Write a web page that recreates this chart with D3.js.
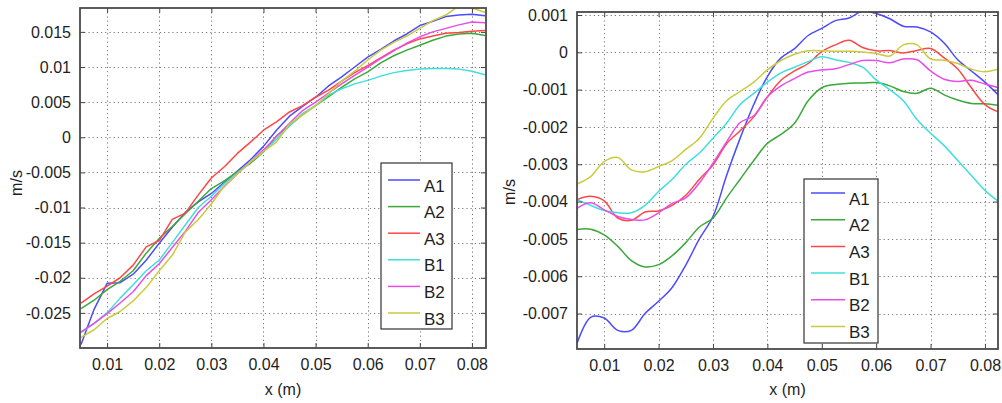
<!DOCTYPE html>
<html><head><meta charset="utf-8">
<script src="https://cdn.jsdelivr.net/npm/d3@7"></script>
<style>
body{margin:0;background:#fff}
svg{display:block}
text{font-family:"Liberation Sans",Arial,Helvetica,sans-serif;fill:#1e1e1e}
</style>
</head><body>
<svg id="c" width="1002" height="403"></svg>
<script>
// ---------- data ----------
const xValues = [0.005,0.0075,0.01,0.0125,0.015,0.0175,0.02,0.0225,0.025,0.0275,0.03,0.0325,0.035,0.0375,0.04,0.0425,0.045,0.0475,0.05,0.0525,0.055,0.0575,0.06,0.0625,0.065,0.0675,0.07,0.0725,0.075,0.0775,0.08,0.0825];
const seriesNames = ["A1","A2","A3","B1","B2","B3"];
const seriesColors = ["#4b4bff","#3aa93a","#ff4646","#40dede","#e94ce9","#caca3c"];

// left panel
const leftA1 = [-0.0295,-0.0245,-0.0208,-0.0207,-0.0195,-0.0175,-0.0151,-0.0128,-0.0107,-0.0092,-0.0080,-0.0064,-0.0048,-0.0032,-0.0013,0.0010,0.0030,0.0044,0.0057,0.0073,0.0086,0.0100,0.0114,0.0125,0.0137,0.0147,0.0159,0.0165,0.0172,0.0174,0.0175,0.0173];
const leftA2 = [-0.0244,-0.0232,-0.0217,-0.0205,-0.0190,-0.0165,-0.0144,-0.0127,-0.0109,-0.0091,-0.0073,-0.0062,-0.0049,-0.0037,-0.0021,0.0002,0.0017,0.0032,0.0045,0.0058,0.0071,0.0083,0.0093,0.0106,0.0116,0.0124,0.0131,0.0138,0.0144,0.0147,0.0148,0.0145];
const leftA3 = [-0.0236,-0.0223,-0.0212,-0.0200,-0.0182,-0.0156,-0.0147,-0.0117,-0.0108,-0.0082,-0.0058,-0.0042,-0.0023,-0.0007,0.0010,0.0022,0.0036,0.0045,0.0057,0.0067,0.0080,0.0092,0.0102,0.0113,0.0124,0.0133,0.0140,0.0144,0.0148,0.0149,0.0151,0.0152];
const leftB1 = [-0.0278,-0.0265,-0.0250,-0.0229,-0.0210,-0.0190,-0.0175,-0.0150,-0.0125,-0.0100,-0.0084,-0.0066,-0.0051,-0.0035,-0.0020,-0.0003,0.0016,0.0034,0.0045,0.0060,0.0069,0.0076,0.0081,0.0087,0.0092,0.0095,0.0097,0.0098,0.0098,0.0097,0.0094,0.0089];
const leftB2 = [-0.0277,-0.0265,-0.0251,-0.0236,-0.0220,-0.0197,-0.0180,-0.0157,-0.0134,-0.0107,-0.0089,-0.0070,-0.0052,-0.0035,-0.0018,0.0001,0.0020,0.0038,0.0050,0.0063,0.0076,0.0088,0.0100,0.0112,0.0123,0.0134,0.0143,0.0150,0.0155,0.0160,0.0164,0.0163];
const leftB3 = [-0.0285,-0.0274,-0.0258,-0.0248,-0.0233,-0.0214,-0.0190,-0.0168,-0.0135,-0.0117,-0.0095,-0.0069,-0.0052,-0.0035,-0.0020,-0.0007,0.0019,0.0032,0.0045,0.0062,0.0080,0.0094,0.0110,0.0124,0.0135,0.0144,0.0155,0.0166,0.0174,0.0187,0.0184,0.0178];

// right panel
const rightA1 = [-0.0078,-0.0071,-0.00712,-0.00745,-0.00745,-0.0070,-0.00667,-0.0063,-0.0057,-0.0050,-0.0044,-0.0033,-0.0023,-0.0014,-0.00065,-0.00015,0.0001,0.00045,0.00064,0.00085,0.00092,0.0011,0.00104,0.0009,0.0007,0.00068,0.00055,0.00025,-0.0002,-0.0005,-0.0008,-0.00115];
const rightA2 = [-0.00475,-0.00474,-0.00489,-0.0052,-0.00558,-0.00575,-0.00569,-0.00545,-0.0051,-0.00468,-0.00444,-0.0039,-0.0034,-0.0029,-0.00244,-0.0022,-0.0019,-0.0013,-0.00095,-0.00086,-0.00083,-0.00082,-0.00081,-0.0009,-0.00105,-0.0011,-0.00096,-0.00114,-0.00128,-0.00137,-0.00138,-0.00142];
const rightA3 = [-0.00395,-0.00386,-0.00398,-0.00444,-0.0045,-0.00428,-0.00425,-0.0041,-0.00383,-0.0034,-0.00302,-0.00245,-0.0021,-0.00173,-0.0012,-0.00075,-0.0005,-0.0003,0.00002,0.0002,0.00032,0.00013,0.00004,0.00005,-0.00002,0.00005,0.0001,-0.00015,-0.00045,-0.00095,-0.0014,-0.0016];
const rightB1 = [-0.00395,-0.0041,-0.00424,-0.0043,-0.0043,-0.0041,-0.00373,-0.0034,-0.0030,-0.0027,-0.0023,-0.0019,-0.0014,-0.0011,-0.0008,-0.00055,-0.0004,-0.00025,-0.00012,-0.0002,-0.00027,-0.0004,-0.00074,-0.0010,-0.0013,-0.0018,-0.00217,-0.0025,-0.0029,-0.0033,-0.0037,-0.0040];
const rightB2 = [-0.00418,-0.00403,-0.00422,-0.0044,-0.00448,-0.00449,-0.0043,-0.00405,-0.0039,-0.0035,-0.00297,-0.0024,-0.00188,-0.0017,-0.00119,-0.0009,-0.0007,-0.00053,-0.00047,-0.00044,-0.00033,-0.00022,-0.00022,-0.00028,-0.00018,-0.0002,-0.0005,-0.00072,-0.00078,-0.00075,-0.00085,-0.00095];
const rightB3 = [-0.00353,-0.00333,-0.00293,-0.00282,-0.00315,-0.0032,-0.00306,-0.0029,-0.0026,-0.0023,-0.00177,-0.0013,-0.00105,-0.0008,-0.00047,-0.00022,-0.00005,0.00004,0.00004,0.00003,0.00003,0.00001,-0.00003,-0.0001,0.0002,0.0002,-0.00018,-0.00021,-0.0003,-0.00045,-0.00052,-0.00045];

const xTicks = [0.01,0.02,0.03,0.04,0.05,0.06,0.07,0.08];
const xTickLabels = ["0.01","0.02","0.03","0.04","0.05","0.06","0.07","0.08"];
const leftYTicks = [-0.025,-0.02,-0.015,-0.01,-0.005,0,0.005,0.01,0.015];
const leftYTickLabels = ["-0.025","-0.02","-0.015","-0.01","-0.005","0","0.005","0.01","0.015"];
const rightYTicks = [-0.007,-0.006,-0.005,-0.004,-0.003,-0.002,-0.001,0,0.001];
const rightYTickLabels = ["-0.007","-0.006","-0.005","-0.004","-0.003","-0.002","-0.001","0","0.001"];
const xLabel = "x (m)";
const yLabel = "m/s";

// ---------- drawing ----------
const svg = d3.select("#c");

function drawPanel(cfg) {
  const x = d3.scaleLinear().domain(cfg.xDomain).range([cfg.left, cfg.right]);
  const y = d3.scaleLinear().domain(cfg.yDomain).range([cfg.bottom, cfg.top]);
  const g = svg.append("g");
  const clipId = "clip" + cfg.id;
  g.append("clipPath").attr("id", clipId).append("rect")
    .attr("x", cfg.left).attr("y", cfg.top)
    .attr("width", cfg.right - cfg.left).attr("height", cfg.bottom - cfg.top);

  // grid
  const grid = g.append("g").attr("stroke", "#7a7a7a").attr("stroke-width", 1).attr("stroke-dasharray", "1.2,3");
  grid.selectAll(".gx").data(xTicks).join("line")
    .attr("x1", d => Math.round(x(d)) + 0.5).attr("x2", d => Math.round(x(d)) + 0.5)
    .attr("y1", cfg.top).attr("y2", cfg.bottom);
  grid.selectAll(".gy").data(cfg.yTicks).join("line")
    .attr("y1", d => Math.round(y(d)) + 0.5).attr("y2", d => Math.round(y(d)) + 0.5)
    .attr("x1", cfg.left).attr("x2", cfg.right);

  // series
  const line = d3.line().x((d, i) => x(xValues[i])).y(d => y(d)).curve(cfg.curve);
  const lines = g.append("g").attr("clip-path", `url(#${clipId})`);
  cfg.series.forEach((s, i) => {
    lines.append("path").attr("d", line(s)).attr("fill", "none")
      .attr("stroke", seriesColors[i]).attr("stroke-width", 1.5).attr("stroke-linejoin", "round");
  });

  // axes (inward ticks on all sides)
  const tl = 5;
  g.append("g").attr("transform", `translate(0,${cfg.bottom})`)
    .call(d3.axisBottom(x).tickValues(xTicks).tickSizeInner(-tl).tickSizeOuter(0).tickPadding(11)
      .tickFormat((d, i) => xTickLabels[i]));
  g.append("g").attr("transform", `translate(0,${cfg.top})`)
    .call(d3.axisTop(x).tickValues(xTicks).tickSizeInner(-tl).tickSizeOuter(0).tickFormat(""));
  g.append("g").attr("transform", `translate(${cfg.left},0)`)
    .call(d3.axisLeft(y).tickValues(cfg.yTicks).tickSizeInner(-tl).tickSizeOuter(0).tickPadding(9)
      .tickFormat((d, i) => cfg.yTickLabels[i]));
  g.append("g").attr("transform", `translate(${cfg.right},0)`)
    .call(d3.axisRight(y).tickValues(cfg.yTicks).tickSizeInner(-tl).tickSizeOuter(0).tickFormat(""));
  g.selectAll(".domain").remove();
  g.selectAll(".tick line").attr("stroke", "#444").attr("stroke-width", 1);
  g.selectAll(".tick text").attr("font-size", 16).attr("fill", "#1e1e1e")
    .style("font-family", '"Liberation Sans", Arial, sans-serif');

  // frame
  g.append("rect").attr("x", cfg.left).attr("y", cfg.top)
    .attr("width", cfg.right - cfg.left).attr("height", cfg.bottom - cfg.top)
    .attr("fill", "none").attr("stroke", "#4a4a4a").attr("stroke-width", 1.8);

  // labels
  g.append("text").attr("x", (cfg.left + cfg.right) / 2).attr("y", 395)
    .attr("text-anchor", "middle").attr("font-size", 16).text(xLabel);
  g.append("text").attr("transform", `translate(${cfg.yLabelX},${cfg.yLabelY}) rotate(-90)`)
    .attr("text-anchor", "middle").attr("font-size", 16).text(yLabel);

  // legend
  const L = cfg.legend;
  const lg = g.append("g");
  lg.append("rect").attr("x", L.x).attr("y", L.y).attr("width", L.w).attr("height", L.h)
    .attr("fill", "#fff").attr("stroke", "#333").attr("stroke-width", 1.2);
  seriesNames.forEach((n, i) => {
    const ly = L.y + L.first + i * L.step;
    lg.append("line").attr("x1", L.x + L.lx1).attr("x2", L.x + L.lx2)
      .attr("y1", ly).attr("y2", ly).attr("stroke", seriesColors[i]).attr("stroke-width", 1.5);
    lg.append("text").attr("x", L.x + L.tx).attr("y", ly + 11.5)
      .attr("font-size", 17).text(n);
  });
}

drawPanel({
  id: "L", left: 80, right: 486, top: 8, bottom: 348,
  xDomain: [0.0048, 0.0827], yDomain: [-0.03, 0.0184],
  yTicks: leftYTicks, yTickLabels: leftYTickLabels,
  series: [leftA1, leftA2, leftA3, leftB1, leftB2, leftB3],
  curve: d3.curveLinear,
  yLabelX: 22, yLabelY: 183,
  legend: {x: 381, y: 163, w: 71, h: 166, first: 17, step: 26.6, lx1: 7, lx2: 39, tx: 43}
});

drawPanel({
  id: "R", left: 577, right: 998, top: 12, bottom: 349,
  xDomain: [0.005, 0.0824], yDomain: [-0.00795, 0.00108],
  yTicks: rightYTicks, yTickLabels: rightYTickLabels,
  series: [rightA1, rightA2, rightA3, rightB1, rightB2, rightB3],
  curve: d3.curveCatmullRom,
  yLabelX: 515, yLabelY: 192,
  legend: {x: 804, y: 179, w: 74, h: 164, first: 14, step: 26.7, lx1: 7, lx2: 41, tx: 45}
});
</script>
</body></html>
